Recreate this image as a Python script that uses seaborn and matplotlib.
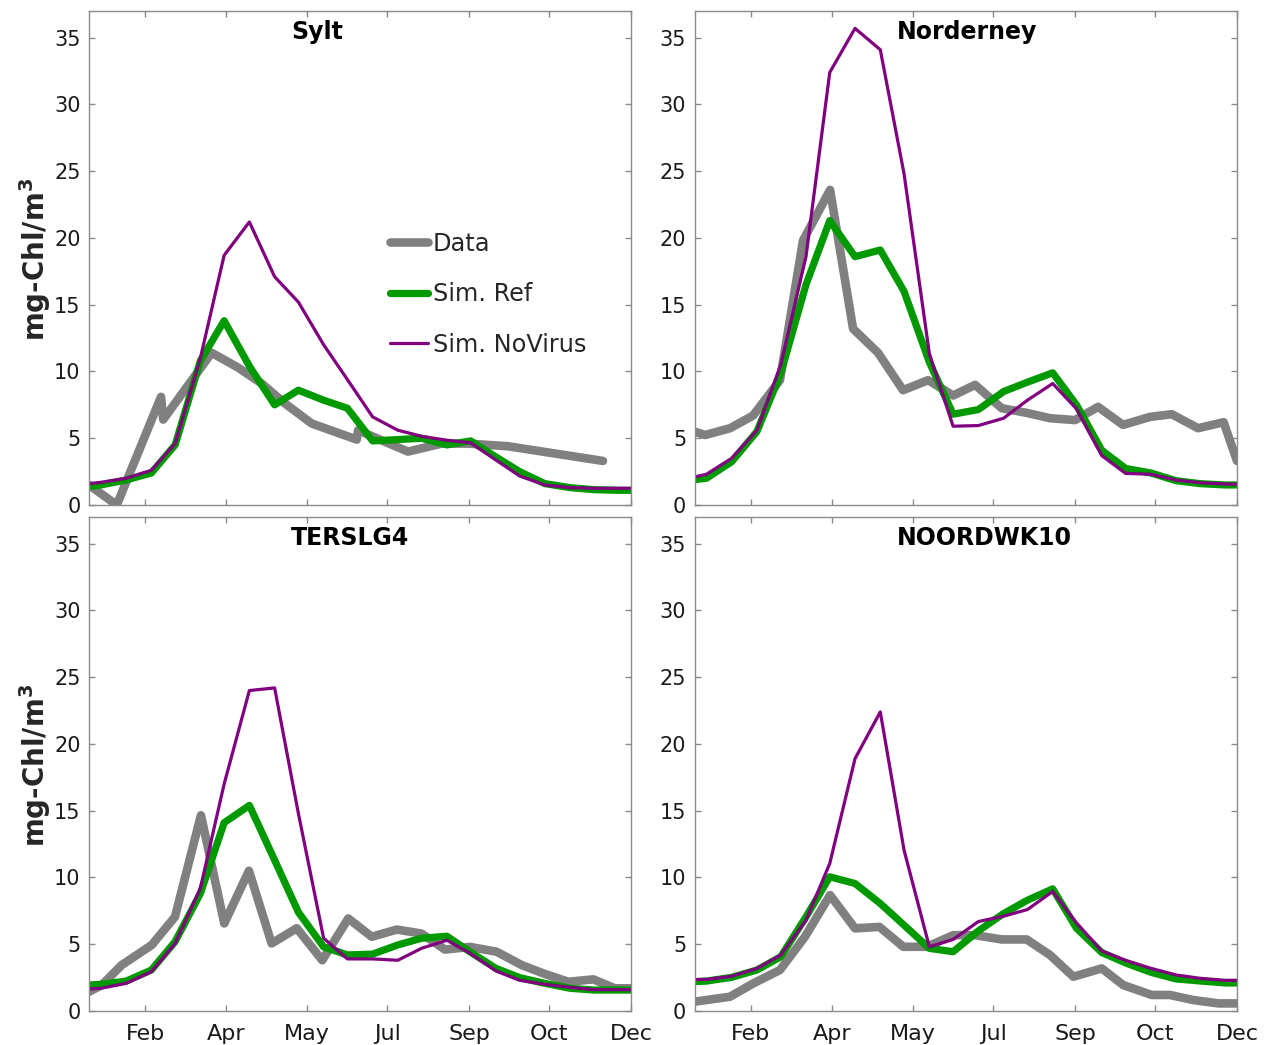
import matplotlib
matplotlib.use("Agg")
import matplotlib.pyplot as plt
import seaborn as sns
import pandas as pd

# x axis: day of year, ticks placed where the original month labels sit
MONTH_TICKS = [38, 92.5, 147, 201, 256, 310, 365]
MONTH_LABELS = ["Feb", "Apr", "May", "Jul", "Sep", "Oct", "Dec"]

# model output days (edge, 22 bins, edge)
SIM_DAYS = [0, 8, 25, 42, 58, 75, 91, 108, 125, 141, 158, 174,
            191, 208, 224, 241, 257, 274, 290, 307, 324, 340, 357, 365]

# --- Sylt ---
SYLT_DATA_DAYS = [0, 18.7, 48.5, 50.0, 82.6, 100.3, 116.3, 132.0, 150.0, 180.3, 181.2,
                  214.8, 237.5, 255.2, 282.2, 346.1]
SYLT_DATA = [1.5, 0.0, 8.1, 6.4, 11.4, 10.3, 9.1, 7.6, 6.1, 4.9, 5.6,
             4.0, 4.6, 4.6, 4.4, 3.3]
SYLT_REF = [1.4, 1.5, 1.87, 2.4, 4.5, 10.8, 13.8, 10.4, 7.5, 8.6, 7.85, 7.25,
            4.8, 4.9, 5.0, 4.5, 4.8, 3.6, 2.5, 1.6, 1.3, 1.15, 1.1, 1.1]
SYLT_NOVIRUS = [1.6, 1.7, 2.0, 2.6, 4.6, 11.0, 18.7, 21.2, 17.1, 15.2, 12.0, 9.4,
                6.6, 5.6, 5.15, 4.85, 4.66, 3.37, 2.17, 1.5, 1.3, 1.25, 1.25, 1.25]

# --- Norderney ---
NORD_DATA_DAYS = [0, 7.1, 23.9, 39.4, 57.5, 73.0, 91.2, 106.7, 123.5, 140.3, 157.2, 174.0,
                  188.8, 206.7, 223.5, 239.2, 256.0, 271.5, 288.3, 306.5, 321.1, 338.8,
                  356.0, 365]
NORD_DATA = [5.5, 5.24, 5.75, 6.7, 9.35, 19.8, 23.6, 13.2, 11.4, 8.6, 9.35, 8.2,
             9.0, 7.25, 6.9, 6.5, 6.36, 7.35, 6.0, 6.6, 6.8, 5.75, 6.2, 3.3]
NORD_REF = [1.9, 2.0, 3.24, 5.5, 9.85, 16.5, 21.3, 18.6, 19.1, 16.0, 10.7, 6.8,
            7.15, 8.5, 9.2, 9.9, 7.5, 4.1, 2.74, 2.4, 1.82, 1.6, 1.5, 1.5]
NORD_NOVIRUS = [2.1, 2.3, 3.5, 5.6, 10.5, 18.6, 32.4, 35.7, 34.1, 24.8, 11.35, 5.9,
                5.95, 6.5, 7.85, 9.1, 7.2, 3.7, 2.37, 2.3, 1.87, 1.67, 1.57, 1.55]

# --- TERSLG4 ---
TERS_DATA_DAYS = [0, 8.6, 22.0, 42.2, 57.9, 75.4, 91.1, 107.7, 123.0, 139.9, 157.1, 174.6,
                  190.4, 207.3, 224.0, 239.7, 256.6, 274.5, 291.4, 307.1, 322.8, 339.6,
                  354.2, 365]
TERS_DATA = [1.44, 1.94, 3.44, 4.94, 7.05, 14.66, 6.56, 10.5, 5.06, 6.2, 3.8, 6.93,
             5.56, 6.1, 5.8, 4.6, 4.8, 4.44, 3.44, 2.77, 2.19, 2.37, 1.7, 1.7]
TERS_REF = [1.94, 2.0, 2.24, 3.07, 5.2, 8.8, 14.1, 15.4, 11.3, 7.4, 4.8, 4.2,
            4.26, 4.95, 5.45, 5.6, 4.4, 3.2, 2.5, 2.07, 1.7, 1.57, 1.57, 1.57]
TERS_NOVIRUS = [1.65, 1.7, 2.07, 2.94, 5.06, 9.2, 17.0, 24.0, 24.2, 14.8, 5.45, 3.9,
                3.9, 3.8, 4.7, 5.3, 4.3, 3.0, 2.3, 2.0, 1.77, 1.6, 1.6, 1.6]

# --- NOORDWK10 ---
NOOR_DATA_DAYS = [0, 23.9, 39.6, 57.5, 74.3, 91.2, 108.0, 124.4, 140.5, 156.3, 174.1,
                  188.7, 206.7, 223.5, 239.2, 254.9, 274.0, 288.5, 307.6, 319.9, 335.6,
                  352.4, 365]
NOOR_DATA = [0.7, 1.07, 2.07, 3.07, 5.56, 8.68, 6.19, 6.3, 4.81, 4.81, 5.68,
             5.68, 5.36, 5.36, 4.19, 2.57, 3.19, 1.94, 1.2, 1.2, 0.82,
             0.57, 0.57]
NOOR_REF = [2.2, 2.24, 2.52, 3.07, 4.06, 7.05, 10.05, 9.55, 8.05, 6.43, 4.69, 4.44,
            6.0, 7.3, 8.3, 9.15, 6.2, 4.38, 3.6, 2.9, 2.4, 2.25, 2.1, 2.1]
NOOR_NOVIRUS = [2.35, 2.37, 2.6, 3.19, 4.19, 6.8, 11.05, 18.9, 22.4, 12.04, 4.81, 5.36,
                6.7, 7.1, 7.6, 8.95, 6.6, 4.5, 3.8, 3.2, 2.7, 2.45, 2.3, 2.3]

STATIONS = ["Sylt", "Norderney", "TERSLG4", "NOORDWK10"]
SERIES = ["Data", "Sim. Ref", "Sim. NoVirus"]

station_data = {
    "Sylt": (SYLT_DATA_DAYS, SYLT_DATA, SYLT_REF, SYLT_NOVIRUS),
    "Norderney": (NORD_DATA_DAYS, NORD_DATA, NORD_REF, NORD_NOVIRUS),
    "TERSLG4": (TERS_DATA_DAYS, TERS_DATA, TERS_REF, TERS_NOVIRUS),
    "NOORDWK10": (NOOR_DATA_DAYS, NOOR_DATA, NOOR_REF, NOOR_NOVIRUS),
}

rows = []
for st, (ddays, dvals, ref, novir) in station_data.items():
    for d, v in zip(ddays, dvals):
        rows.append({"station": st, "series": "Data", "day": d, "chl": v})
    for d, v in zip(SIM_DAYS, ref):
        rows.append({"station": st, "series": "Sim. Ref", "day": d, "chl": v})
    for d, v in zip(SIM_DAYS, novir):
        rows.append({"station": st, "series": "Sim. NoVirus", "day": d, "chl": v})
df = pd.DataFrame(rows)

colors = {"Data": "#808080", "Sim. Ref": "#009900", "Sim. NoVirus": "#800080"}
widths = {"Data": 6.2, "Sim. Ref": 5.2, "Sim. NoVirus": 2.3}

sns.set_theme(style="white")
plt.rcParams["font.family"] = ["DejaVu Sans"]
plt.rcParams["mathtext.fontset"] = "dejavusans"

W, H = 1271, 1045
fig = plt.figure(figsize=(W / 100, H / 100), dpi=100)

# axes boxes in pixels: left, top, right, bottom
boxes = [(89, 11, 631, 505), (694.5, 11, 1237, 505),
         (89, 517, 631, 1011), (694.5, 517, 1237, 1011)]

for i, st in enumerate(STATIONS):
    l, t, r, b = boxes[i]
    ax = fig.add_axes([l / W, (H - b) / H, (r - l) / W, (b - t) / H])
    sub = df[df["station"] == st]
    for s in SERIES:
        part = sub[sub["series"] == s]
        sns.lineplot(data=part, x="day", y="chl", ax=ax, color=colors[s],
                     linewidth=widths[s], sort=False, estimator=None,
                     label=s, legend=False)
    ax.set_xlim(0, 365)
    ax.set_ylim(0, 37)
    ax.set_yticks([0, 5, 10, 15, 20, 25, 30, 35])
    ax.set_xticks(MONTH_TICKS)
    if i >= 2:
        ax.set_xticklabels(MONTH_LABELS)
    else:
        ax.set_xticklabels([])
    ax.set_xlabel("")
    ax.set_ylabel("")
    for sp in ax.spines.values():
        sp.set_color("#8a8a8a")
        sp.set_linewidth(1.0)
    ax.tick_params(direction="in", length=4, width=1.0, color="#8a8a8a",
                   top=True, right=True, bottom=True, left=True,
                   labelsize=15, labelcolor="#1a1a1a", pad=6)
    ax.tick_params(axis="x", labelsize=16, pad=9)
    ax.text(0.373, 0.944, st, transform=ax.transAxes, ha="left", va="baseline",
            fontsize=17, fontweight="bold", color="black")
    if st == "Sylt":
        ax.legend(loc="upper left", bbox_to_anchor=(0.555, 0.553), frameon=False,
                  borderaxespad=0, borderpad=0, fontsize=17.3, handlelength=1.6,
                  handletextpad=0.2, labelspacing=1.1)

fig.text(35 / W, (H - 259) / H, r"mg-Chl/m$^{\mathbf{3}}$", rotation=90, ha="center",
         va="center", fontsize=20, fontweight="bold")
fig.text(35 / W, (H - 765) / H, r"mg-Chl/m$^{\mathbf{3}}$", rotation=90, ha="center",
         va="center", fontsize=20, fontweight="bold")

fig.savefig("out.png", dpi=100)
